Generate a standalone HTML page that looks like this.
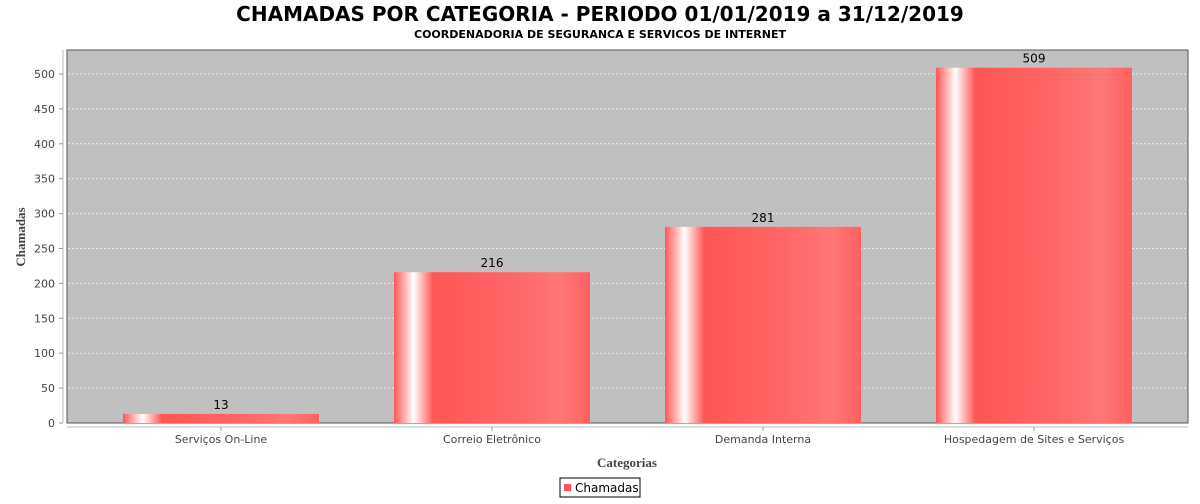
<!DOCTYPE html>
<html><head><meta charset="utf-8"><style>
body{margin:0;width:1200px;height:500px;background:#fff;overflow:hidden;font-family:"DejaVu Sans","Liberation Sans",sans-serif}
</style></head><body>
<svg id="chart" width="1200" height="500" xmlns="http://www.w3.org/2000/svg">
<defs>
<linearGradient id="bg" x1="0" x2="1" y1="0" y2="0">
<stop offset="0" stop-color="#ff5555"/>
<stop offset="0.1" stop-color="#ffffff"/>
<stop offset="0.2" stop-color="#ff5555"/>
<stop offset="0.6" stop-color="#ff6666"/>
<stop offset="0.85" stop-color="#ff7777"/>
<stop offset="1" stop-color="#ff6060"/>
</linearGradient>
</defs>
<text x="600" y="21" text-anchor="middle" font-size="20" font-weight="bold" fill="#000">CHAMADAS POR CATEGORIA - PERIODO 01/01/2019 a 31/12/2019</text>
<text x="600" y="38" text-anchor="middle" font-size="11" font-weight="bold" fill="#000">COORDENADORIA DE SEGURANCA E SERVICOS DE INTERNET</text>
<rect x="67" y="50" width="1121" height="373" fill="#c0c0c0" stroke="#555" stroke-width="1"/>
<line x1="63" y1="50" x2="63" y2="423" stroke="#bbb"/>
<line x1="67" y1="427" x2="1188" y2="427" stroke="#bbb"/>
<g id="grid"></g><g id="bars"></g><g id="ticks"></g>
<text transform="translate(25,237) rotate(-90)" text-anchor="middle" font-size="13" font-weight="bold" font-family="Liberation Serif,serif" fill="#444">Chamadas</text>
<text x="627" y="467" text-anchor="middle" font-size="13" font-weight="bold" font-family="Liberation Serif,serif" fill="#444">Categorias</text>
<g>
<rect x="560" y="478" width="80" height="19" fill="#fff" stroke="#000"/>
<rect x="564" y="484" width="7" height="7" fill="#ff5555"/>
<text x="575" y="492" font-size="12" fill="#000">Chamadas</text>
</g>
</svg>
<script>
const categories=["Serviços On-Line","Correio Eletrônico","Demanda Interna","Hospedagem de Sites e Serviços"];
const values=[13,216,281,509];
const yTicks=[0,50,100,150,200,250,300,350,400,450,500];
const NS="http://www.w3.org/2000/svg";
const y0=423,y500=74;
function yS(v){return y0-(y0-y500)*v/500;}
const left=67,catW=271,off=56,barW=196;
function xS(i){return left+off+i*catW;}
function mk(t,a,p){const e=document.createElementNS(NS,t);for(const k in a)e.setAttribute(k,a[k]);p.appendChild(e);return e;}
const grid=document.getElementById('grid'),bars=document.getElementById('bars'),ticks=document.getElementById('ticks');
yTicks.forEach(v=>{const y=yS(v);
 if(v>0){const g=mk('line',{x1:68,x2:1187,y1:y,y2:y,stroke:'#eee','stroke-dasharray':'2,2'},grid);
 
 }
 const tk=mk('line',{x1:59,x2:63,y1:y,y2:y,stroke:'#999'},ticks);
 
 
 const t=mk('text',{x:55,y:y+4,'text-anchor':'end','font-size':11,fill:'#444'},ticks);
 t.textContent=v;
 
 
});
categories.forEach((c,i)=>{const x=xS(i),v=values[i];
 const b=mk('rect',{x:x,y:yS(v),width:barW,height:y0-yS(v),fill:'url(#bg)'},bars);
 
 
 const l=mk('text',{x:x+barW/2,y:yS(v)-5,'text-anchor':'middle','font-size':12,fill:'#000'},bars);
 l.textContent=v;
 
 
 const tk=mk('line',{x1:x+barW/2,x2:x+barW/2,y1:427,y2:431,stroke:'#999'},ticks);
 
 
 const t=mk('text',{x:x+barW/2,y:443,'text-anchor':'middle','font-size':11,fill:'#444'},ticks);
 t.textContent=c;
 
 
});
</script>
</body></html>
